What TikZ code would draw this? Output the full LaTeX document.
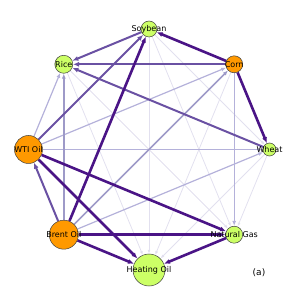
\documentclass[tikz,border=0pt]{standalone}
\usepackage{fontspec}
\setmainfont{DejaVu Sans}
\usetikzlibrary{arrows.meta}
\definecolor{orng}{HTML}{FF9900}
\definecolor{lime}{HTML}{CCFF66}
\definecolor{pur1}{HTML}{E2E0EF}
\definecolor{pur2}{HTML}{B4B1DA}
\definecolor{pur3}{HTML}{9E9AC8}
\definecolor{pur4}{HTML}{6A51A3}
\definecolor{pur5}{HTML}{4A1486}
\pgfdeclarelayer{background}
\pgfsetlayers{background,main}

\begin{document}
\begin{tikzpicture}[x=1pt,y=1pt]
\tikzstyle{every label}=[font=\fontsize{8}{8}\selectfont, inner sep=0pt]
\tikzstyle{comm}=[circle, draw=black!75, line width=0.5pt, inner sep=0pt]
\tikzstyle{w1}=[draw=pur1, line width=0.8pt, -{Latex[length=4pt,width=3pt]}]
\tikzstyle{w2}=[draw=pur2, line width=1.2pt, -{Latex[length=5pt,width=4pt]}]
\tikzstyle{w3}=[draw=pur3, line width=1.5pt, -{Latex[length=5pt,width=4pt]}]
\tikzstyle{w4}=[draw=pur4, line width=2pt, -{Latex[length=6pt,width=5pt]}]
\tikzstyle{w5}=[draw=pur5, line width=2.6pt, -{Latex[length=6pt,width=5pt]}]
\useasboundingbox (-149,-149.5) rectangle (150,149.5);
% commodities on the octagon
\node[comm, fill=lime, minimum size=16pt, label=center:Soybean] (soy) at (90:120.5) {};
\node[comm, fill=orng, minimum size=17pt, label=center:Corn] (corn) at (45:120.5) {};
\node[comm, fill=lime, minimum size=13pt, label=center:Wheat] (wht) at (0:120.5) {};
\node[comm, fill=lime, minimum size=17pt, label=center:Natural Gas] (gas) at (-45:120.5) {};
\node[comm, fill=lime, minimum size=32pt, label=center:Heating Oil] (heat) at (-90:120.5) {};
\node[comm, fill=orng, minimum size=29pt, label=center:Brent Oil] (brent) at (-135:120.5) {};
\node[comm, fill=orng, minimum size=28pt, label=center:WTI Oil] (wti) at (180:120.5) {};
\node[comm, fill=lime, minimum size=18pt, label=center:Rice] (rice) at (135:120.5) {};
\node[font=\fontsize{9}{9}\selectfont] (tag) at (110,-123.5) {(a)};
\begin{pgfonlayer}{background}
% faint links
\path (soy) edge[w1] (heat) (soy) edge[w1] (wht) (soy) edge[w1] (gas)
      (rice) edge[w1] (gas) (rice) edge[w1] (heat) (corn) edge[w1] (heat)
      (wht) edge[w1] (gas) (wht) edge[w1] (heat);
% light links
\path (wti) edge[w2] (rice) (wti) edge[w2] (wht) (brent) edge[w2] (wht)
      (wti) edge[w2] (corn) (corn) edge[w2] (gas);
\path (brent) edge[w3] (rice) (brent) edge[w3] (corn);
% medium links
\path (corn) edge[w4] (rice) (soy) edge[w4] (rice) (wht) edge[w4] (rice)
      (wti) edge[w4] (soy) (brent) edge[w4] (wti);
% strong links
\path (corn) edge[w5] (soy) (corn) edge[w5] (wht) (brent) edge[w5] (soy)
      (wti) edge[w5] (gas) (wti) edge[w5] (heat) (brent) edge[w5] (heat)
      (brent) edge[w5] (gas) (gas) edge[w5] (heat);
\end{pgfonlayer}
\end{tikzpicture}
\end{document}
